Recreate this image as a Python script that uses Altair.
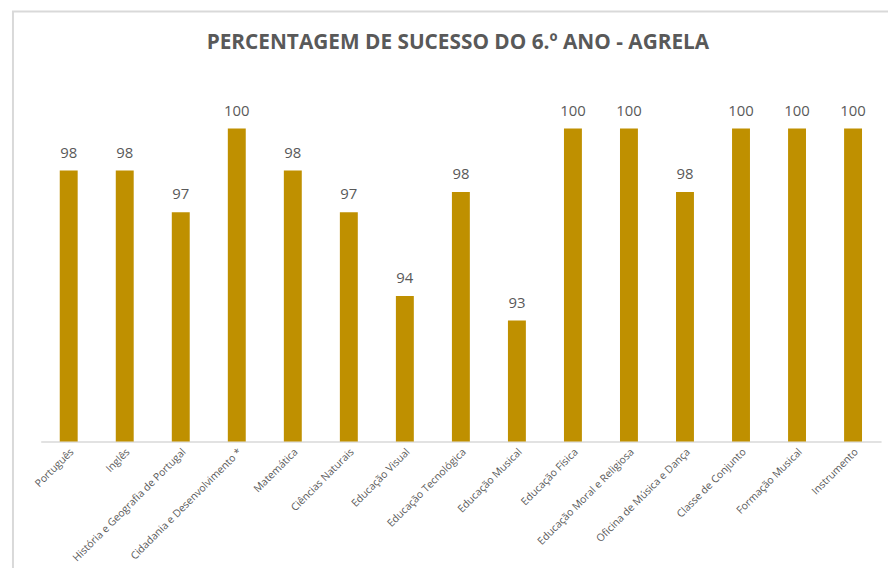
import altair as alt
import pandas as pd

disciplinas = [
    "Português", "Inglês", "História e Geografia de Portugal",
    "Cidadania e Desenvolvimento *", "Matemática", "Ciências Naturais",
    "Educação Visual", "Educação Tecnológica", "Educação Musical",
    "Educação Física", "Educação Moral e Religiosa",
    "Oficina de Música e Dança", "Classe de Conjunto",
    "Formação Musical", "Instrumento",
]
sucesso = [98.46, 98.46, 96.92, 100.0, 98.46, 96.92, 93.85, 97.67,
           92.95, 100.0, 100.0, 97.67, 100.0, 100.0, 100.0]

TITULO = "PERCENTAGEM DE SUCESSO DO 6.º ANO - AGRELA"
Y_MIN = 88.5
Y_MAX = 100.0

df = pd.DataFrame({"disciplina": disciplinas, "sucesso": sucesso})

GOLD = "#BF9000"
GREY = "#595959"

x_enc = alt.X(
    "disciplina:N",
    sort=disciplinas,
    scale=alt.Scale(paddingInner=0.68, paddingOuter=0.34),
    axis=alt.Axis(
        title=None, labelAngle=-45, labelFontSize=10.5, labelColor=GREY,
        labelFont="Open Sans", ticks=False, domainColor="#d9d9d9",
        domainWidth=1.5, labelPadding=5, labelLimit=300,
    ),
)
y_scale = alt.Scale(domain=[Y_MIN, Y_MAX], zero=False, nice=False)

bars = alt.Chart(df).mark_bar(color=GOLD).encode(
    x=x_enc,
    y=alt.Y("sucesso:Q", scale=y_scale, axis=None),
    y2=alt.datum(Y_MIN),
)

labels = alt.Chart(df).transform_calculate(
    rotulo="format(round(datum.sucesso), 'd')"
).mark_text(
    fontSize=15, color=GREY, font="Open Sans", baseline="alphabetic", dy=-13
).encode(
    x=x_enc,
    y=alt.Y("sucesso:Q", scale=y_scale, axis=None),
    text="rotulo:N",
)

frame = alt.Chart(pd.DataFrame({"k": [0]})).mark_rect(
    fill=None, stroke="#d9d9d9", strokeWidth=2
).encode(
    x=alt.value(-28), x2=alt.value(900),
    y=alt.value(-118), y2=alt.value(600),
)

title = alt.Chart(pd.DataFrame({"t": [TITULO]})).mark_text(
    font="Open Sans", fontSize=21, fontWeight="bold", color=GREY,
    align="center", baseline="alphabetic",
).encode(
    x=alt.value(421), y=alt.value(-80), text="t:N",
)

chart = alt.layer(frame, bars, labels, title).properties(
    width=848,
    height=316,
    autosize=alt.AutoSizeParams(type="none"),
    padding={"left": 33, "top": 119, "right": 7, "bottom": 125},
).configure(background="white").configure_view(strokeWidth=0, stroke="transparent")

chart.save("out.html", embed_options={"renderer": "svg", "actions": False})
